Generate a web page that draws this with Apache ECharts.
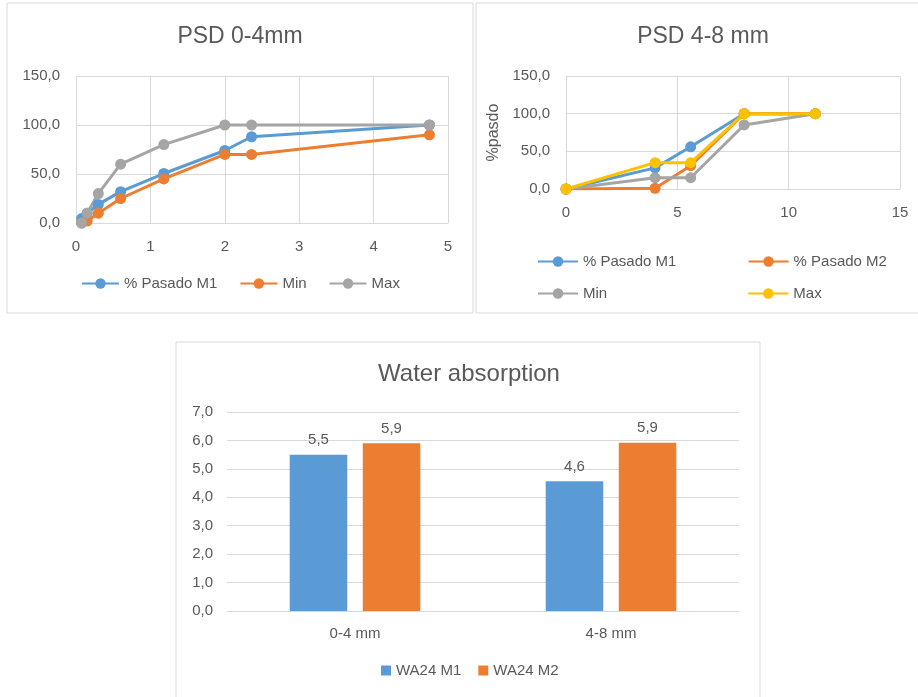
<!DOCTYPE html>
<html>
<head>
<meta charset="utf-8">
<script src="https://cdn.jsdelivr.net/npm/echarts@6/dist/echarts.min.js"></script>
<style>
html,body{margin:0;padding:0;background:#fff;}
#main{width:918px;height:697px;}
</style>
</head>
<body>
<div id="main"></div>
<script>
// ---- Chart 1: PSD 0-4mm ----
var psd04Sizes = [0.075, 0.15, 0.3, 0.6, 1.18, 2.0, 2.36, 4.75];
var psd04M1 = [4.5, 10, 19, 32, 50.5, 74, 88, 100];
var psd04Min = [0, 2, 10, 25, 45, 70, 70, 90];
var psd04Max = [0, 10, 30, 60, 80, 100, 100, 100];

// ---- Chart 2: PSD 4-8 mm ----
var psd48Sizes = [0, 4, 5.6, 8, 11.2];
var psd48M1 = [0, 28, 56, 100, 100];
var psd48M2 = [0, 1, 31, 100, 100];
var psd48Min = [0, 15, 15, 85, 100];
var psd48Max = [0, 35, 35, 100, 100];

// ---- Chart 3: Water absorption ----
var waCategories = ['0-4 mm', '4-8 mm'];
var waM1 = [5.5, 4.56];
var waM2 = [5.9, 5.92];

var titles = ['PSD 0-4mm', 'PSD 4-8 mm', 'Water absorption'];
var yName2 = '%pasdo';

var FONT = 'Liberation Sans';
var TXT = '#595959';
var GRIDC = '#d9d9d9';
var BLUE = '#5b9bd5', ORANGE = '#ed7d31', GRAY = '#a5a5a5', YELLOW = '#ffc000';

function comma1(v) { return (Math.round(v * 10) / 10).toFixed(1).replace('.', ','); }
function zip(xs, ys) { return xs.map(function (x, i) { return [x, ys[i]]; }); }

function lineSeries(name, color, xs, ys, xi, yi) {
  return {
    type: 'line', name: name, xAxisIndex: xi, yAxisIndex: yi,
    data: zip(xs, ys),
    symbol: 'circle', symbolSize: 11,
    lineStyle: { color: color, width: 3 },
    itemStyle: { color: color },
    animation: false
  };
}

var valAxisY = function (gi, min, max, interval, extra) {
  var a = {
    type: 'value', gridIndex: gi, min: min, max: max, interval: interval,
    axisLine: { show: false }, axisTick: { show: false },
    splitLine: { lineStyle: { color: GRIDC, width: 1 } },
    axisLabel: { color: TXT, fontSize: 15, fontFamily: FONT, margin: 16, formatter: comma1 }
  };
  for (var k in extra) a[k] = extra[k];
  return a;
};
var valAxisX = function (gi, min, max, interval) {
  return {
    type: 'value', gridIndex: gi, min: min, max: max, interval: interval,
    axisLine: { show: true, lineStyle: { color: GRIDC } }, axisTick: { show: false },
    splitLine: { show: true, lineStyle: { color: GRIDC, width: 1 } },
    axisLabel: { color: TXT, fontSize: 15, fontFamily: FONT, margin: 16 }
  };
};

var legendBase = function (extra) {
  var l = {
    orient: 'horizontal',
    textStyle: { color: TXT, fontSize: 15, fontFamily: FONT },
    itemWidth: 37, itemHeight: 13
  };
  for (var k in extra) l[k] = extra[k];
  return l;
};

var chart = echarts.init(document.getElementById('main'), null, { renderer: 'canvas' });
chart.setOption({
  backgroundColor: '#fff',
  animation: false,
  textStyle: { fontFamily: FONT },
  graphic: [
    { type: 'rect', shape: { x: 7, y: 3, width: 466, height: 310 }, style: { fill: 'none', stroke: '#d9d9d9', lineWidth: 1 }, silent: true, z: -10 },
    { type: 'rect', shape: { x: 476, y: 3, width: 460, height: 310 }, style: { fill: 'none', stroke: '#d9d9d9', lineWidth: 1 }, silent: true, z: -10 },
    { type: 'rect', shape: { x: 176, y: 342, width: 584, height: 380 }, style: { fill: 'none', stroke: '#d9d9d9', lineWidth: 1 }, silent: true, z: -10 }
  ],
  title: [
    { text: titles[0], left: 240, top: 25, textAlign: 'center', padding: 0, textStyle: { color: TXT, fontSize: 23, fontWeight: 'normal', fontFamily: FONT } },
    { text: titles[1], left: 703, top: 25, textAlign: 'center', padding: 0, textStyle: { color: TXT, fontSize: 23, fontWeight: 'normal', fontFamily: FONT } },
    { text: titles[2], left: 469, top: 362, textAlign: 'center', padding: 0, textStyle: { color: TXT, fontSize: 24, fontWeight: 'normal', fontFamily: FONT } }
  ],
  legend: [
    legendBase({ data: ['% Pasado M1', 'Min', 'Max'], left: 81, top: 276, itemGap: 22, padding: 0 }),
    legendBase({ data: ['% Pasado M1 ', '% Pasado M2'], left: 537, top: 254, itemGap: 67, itemWidth: 40, padding: 0 }),
    legendBase({ data: ['Min ', 'Max '], left: 537, top: 286, itemGap: 136, itemWidth: 40, padding: 0 }),
    legendBase({ data: ['WA24 M1', 'WA24 M2'], left: 381, top: 663, itemGap: 17, itemWidth: 10, itemHeight: 10, icon: 'rect', padding: 0 })
  ],
  grid: [
    { left: 76, top: 76, width: 372, height: 147 },
    { left: 566, top: 76, width: 334, height: 113 },
    { left: 227, top: 412, width: 512, height: 199 }
  ],
  xAxis: [
    valAxisX(0, 0, 5, 1),
    valAxisX(1, 0, 15, 5),
    {
      type: 'category', gridIndex: 2, data: waCategories,
      axisLine: { show: true, lineStyle: { color: GRIDC } }, axisTick: { show: false },
      axisLabel: { color: TXT, fontSize: 15, fontFamily: FONT, margin: 15 }
    }
  ],
  yAxis: [
    valAxisY(0, 0, 150, 50, {}),
    valAxisY(1, 0, 150, 50, {
      name: yName2, nameLocation: 'middle', nameRotate: 90, nameGap: 64,
      nameTextStyle: { color: TXT, fontSize: 16, fontFamily: FONT }
    }),
    valAxisY(2, 0, 7, 1, { axisLabel: { color: TXT, fontSize: 15, fontFamily: FONT, margin: 14, formatter: comma1 } })
  ],
  series: [
    lineSeries('% Pasado M1', BLUE, psd04Sizes, psd04M1, 0, 0),
    lineSeries('Min', ORANGE, psd04Sizes, psd04Min, 0, 0),
    lineSeries('Max', GRAY, psd04Sizes, psd04Max, 0, 0),

    lineSeries('% Pasado M1 ', BLUE, psd48Sizes, psd48M1, 1, 1),
    lineSeries('% Pasado M2', ORANGE, psd48Sizes, psd48M2, 1, 1),
    lineSeries('Min ', GRAY, psd48Sizes, psd48Min, 1, 1),
    lineSeries('Max ', YELLOW, psd48Sizes, psd48Max, 1, 1),

    {
      type: 'bar', name: 'WA24 M1', xAxisIndex: 2, yAxisIndex: 2, data: waM1,
      itemStyle: { color: BLUE }, barGap: '27%', barCategoryGap: '49%',
      label: { show: true, position: 'top', distance: 7, color: TXT, fontSize: 15, fontFamily: FONT, formatter: function (p) { return comma1(p.value); } }
    },
    {
      type: 'bar', name: 'WA24 M2', xAxisIndex: 2, yAxisIndex: 2, data: waM2,
      itemStyle: { color: ORANGE }, barGap: '27%', barCategoryGap: '49%',
      label: { show: true, position: 'top', distance: 7, color: TXT, fontSize: 15, fontFamily: FONT, formatter: function (p) { return comma1(p.value); } }
    }
  ]
});
</script>
</body>
</html>
